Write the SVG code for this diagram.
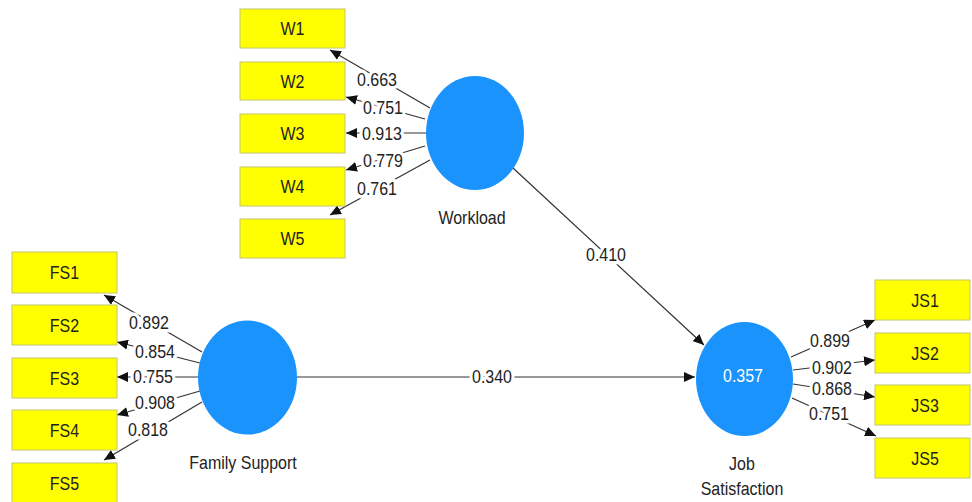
<svg xmlns="http://www.w3.org/2000/svg" width="972" height="502" viewBox="0 0 972 502">
<defs>
<marker id="arr" markerUnits="userSpaceOnUse" markerWidth="12" markerHeight="10" refX="11" refY="5" orient="auto">
<path d="M0,0 L11,5 L0,10 Z" fill="#111"/>
</marker>
<style>
.ind{fill:#ffff00;stroke:#c4c46e;stroke-width:1}
.lat{fill:#1a93fc}
.t{font-family:"Liberation Sans",Arial,sans-serif;font-size:16px;fill:#222;text-anchor:middle}
.w{fill:#ffffff}
.lbl{paint-order:stroke;stroke:#ffffff;stroke-width:6px;stroke-linejoin:round}
.c line{stroke:#333;stroke-width:1.2;marker-end:url(#arr)}
</style>
</defs>
<rect width="972" height="502" fill="#ffffff"/>

<g id="connectors" class="c">
<line x1="430" y1="108" x2="330" y2="50"/>
<line x1="425" y1="119" x2="346" y2="97"/>
<line x1="426" y1="133" x2="346" y2="133"/>
<line x1="425" y1="146" x2="346" y2="170"/>
<line x1="430" y1="160" x2="330" y2="215"/>

<line x1="202" y1="352" x2="104" y2="295"/>
<line x1="200" y1="363" x2="117" y2="342"/>
<line x1="198" y1="377" x2="117" y2="377"/>
<line x1="200" y1="391" x2="117" y2="415"/>
<line x1="202" y1="402" x2="104" y2="460"/>

<line x1="791" y1="357" x2="875" y2="320"/>
<line x1="793" y1="370" x2="875" y2="360"/>
<line x1="793" y1="384" x2="875" y2="397"/>
<line x1="792" y1="398" x2="876" y2="436"/>

<line x1="513" y1="168" x2="704" y2="345"/>
<line x1="297" y1="377" x2="695" y2="377"/>
</g>

<g id="connector-labels">
<text class="t lbl" transform="translate(377,79) scale(1,1.15)" y="5.7">0.663</text>
<text class="t lbl" transform="translate(383,107) scale(1,1.15)" y="5.7">0.751</text>
<text class="t lbl" transform="translate(382,133) scale(1,1.15)" y="5.7">0.913</text>
<text class="t lbl" transform="translate(383,160) scale(1,1.15)" y="5.7">0.779</text>
<text class="t lbl" transform="translate(377,188) scale(1,1.15)" y="5.7">0.761</text>

<text class="t lbl" transform="translate(149,322) scale(1,1.15)" y="5.7">0.892</text>
<text class="t lbl" transform="translate(155,351) scale(1,1.15)" y="5.7">0.854</text>
<text class="t lbl" transform="translate(153,376) scale(1,1.15)" y="5.7">0.755</text>
<text class="t lbl" transform="translate(155,402) scale(1,1.15)" y="5.7">0.908</text>
<text class="t lbl" transform="translate(148,429) scale(1,1.15)" y="5.7">0.818</text>

<text class="t lbl" transform="translate(830,340) scale(1,1.15)" y="5.7">0.899</text>
<text class="t lbl" transform="translate(832,367) scale(1,1.15)" y="5.7">0.902</text>
<text class="t lbl" transform="translate(832,388) scale(1,1.15)" y="5.7">0.868</text>
<text class="t lbl" transform="translate(829,413) scale(1,1.15)" y="5.7">0.751</text>

<text class="t lbl" transform="translate(606,254) scale(1,1.15)" y="5.7">0.410</text>
<text class="t lbl" transform="translate(492,376) scale(1,1.15)" y="5.7">0.340</text>
</g>

<g id="W1"><rect class="ind" x="240" y="9" width="105" height="39"/><text class="t" transform="translate(292.5,28.5) scale(1,1.15)" y="5.7">W1</text></g>
<g id="W2"><rect class="ind" x="240" y="62" width="105" height="38"/><text class="t" transform="translate(292.5,81) scale(1,1.15)" y="5.7">W2</text></g>
<g id="W3"><rect class="ind" x="240" y="114" width="105" height="39"/><text class="t" transform="translate(292.5,133.5) scale(1,1.15)" y="5.7">W3</text></g>
<g id="W4"><rect class="ind" x="240" y="167" width="105" height="39"/><text class="t" transform="translate(292.5,186.5) scale(1,1.15)" y="5.7">W4</text></g>
<g id="W5"><rect class="ind" x="240" y="219" width="105" height="39"/><text class="t" transform="translate(292.5,238.5) scale(1,1.15)" y="5.7">W5</text></g>

<g id="FS1"><rect class="ind" x="12" y="252" width="105" height="41"/><text class="t" transform="translate(64.5,272.5) scale(1,1.15)" y="5.7">FS1</text></g>
<g id="FS2"><rect class="ind" x="12" y="305" width="105" height="40"/><text class="t" transform="translate(64.5,325) scale(1,1.15)" y="5.7">FS2</text></g>
<g id="FS3"><rect class="ind" x="12" y="358" width="105" height="40"/><text class="t" transform="translate(64.5,378) scale(1,1.15)" y="5.7">FS3</text></g>
<g id="FS4"><rect class="ind" x="12" y="410" width="105" height="40"/><text class="t" transform="translate(64.5,430) scale(1,1.15)" y="5.7">FS4</text></g>
<g id="FS5"><rect class="ind" x="12" y="463" width="105" height="40"/><text class="t" transform="translate(64.5,483) scale(1,1.15)" y="5.7">FS5</text></g>

<g id="JS1"><rect class="ind" x="875" y="280" width="95" height="40"/><text class="t" transform="translate(925,300) scale(1,1.15)" y="5.7">JS1</text></g>
<g id="JS2"><rect class="ind" x="875" y="333" width="95" height="40"/><text class="t" transform="translate(925,353) scale(1,1.15)" y="5.7">JS2</text></g>
<g id="JS3"><rect class="ind" x="875" y="385" width="95" height="40"/><text class="t" transform="translate(925,405) scale(1,1.15)" y="5.7">JS3</text></g>
<g id="JS5"><rect class="ind" x="875" y="438" width="95" height="40"/><text class="t" transform="translate(925,458) scale(1,1.15)" y="5.7">JS5</text></g>

<g id="Workload"><ellipse class="lat" cx="475" cy="133" rx="49" ry="57"/><text class="t" transform="translate(472,217) scale(1,1.15)" y="5.7">Workload</text></g>
<g id="FamilySupport"><ellipse class="lat" cx="247.5" cy="377.5" rx="49.5" ry="57"/><text class="t" transform="translate(243,462) scale(1,1.15)" y="5.7">Family Support</text></g>
<g id="JobSatisfaction"><ellipse class="lat" cx="744.5" cy="379" rx="48.5" ry="57"/><text class="t w" transform="translate(743,375) scale(1,1.15)" y="5.7">0.357</text><text class="t" transform="translate(742,463) scale(1,1.15)" y="5.7">Job</text><text class="t" transform="translate(742,488) scale(1,1.15)" y="5.7">Satisfaction</text></g>
</svg>
